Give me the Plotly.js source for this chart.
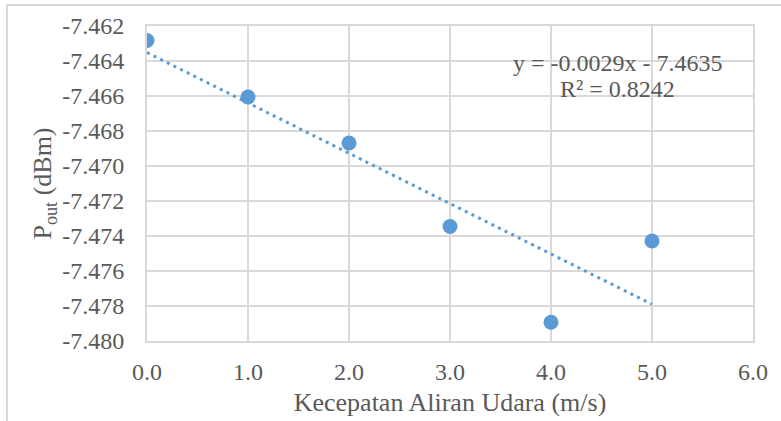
<!DOCTYPE html>
<html>
<head>
<meta charset="utf-8">
<script src="https://cdn.plot.ly/plotly-3.0.1.min.js"></script>
<style>
html,body{margin:0;padding:0;background:#fff;}
#wrap{position:relative;width:781px;height:421px;overflow:hidden;}
#frame{position:absolute;left:6px;top:4px;width:800px;height:440px;border-left:2px solid #d9d9d9;border-top:2px solid #d9d9d9;pointer-events:none;}
#chart{position:absolute;left:0;top:0;width:781px;height:421px;}
</style>
</head>
<body>
<div id="wrap">
<div id="chart"></div>
<div id="frame"></div>
</div>
<script>
// Data
const airSpeed = [0, 1, 2, 3, 4, 5];                 // m/s
const pOut = [-7.46283, -7.46606, -7.46869, -7.47346, -7.47893, -7.47429]; // dBm
const xTickVals = [0, 1, 2, 3, 4, 5, 6];
const yTickVals = [-7.480, -7.478, -7.476, -7.474, -7.472, -7.470, -7.468, -7.466, -7.464, -7.462];
const xTickText = xTickVals.map(v => v.toFixed(1));
const yTickText = yTickVals.map(v => v.toFixed(3));
const eqText = "y = -0.0029x - 7.4635";
const r2Text = "R² = 0.8242";

// Linear least squares trendline
const n = airSpeed.length;
const mx = airSpeed.reduce((a,b)=>a+b,0)/n;
const my = pOut.reduce((a,b)=>a+b,0)/n;
let sxy = 0, sxx = 0;
for (let i=0;i<n;i++){ sxy += (airSpeed[i]-mx)*(pOut[i]-my); sxx += (airSpeed[i]-mx)**2; }
const slope = sxy/sxx, intercept = my - slope*mx;
const xMin = Math.min(...airSpeed), xMax = Math.max(...airSpeed);
const trendX = [xMin, xMax];
const trendY = trendX.map(x => intercept + slope*x);

const blue = '#5b9bd5';
const txt = '#595959';
const grid = '#d9d9d9';
const font = 'Liberation Serif';

const traces = [
  {x: trendX, y: trendY, mode: 'lines', type: 'scatter',
   line: {color: blue, width: 3, dash: '3px,4.4px'}, hoverinfo: 'skip'},
  {x: airSpeed, y: pOut, mode: 'markers', type: 'scatter',
   marker: {color: blue, size: 15}}
];

const layout = {
  width: 781, height: 421,
  margin: {l: 147, r: 28, t: 26, b: 80},
  paper_bgcolor: '#fff', plot_bgcolor: '#fff',
  showlegend: false,
  font: {family: font, size: 24, color: txt},
  xaxis: {
    range: [0, 6], tickvals: xTickVals, ticktext: xTickText,
    showgrid: true, gridcolor: grid, gridwidth: 2,
    showline: true, mirror: true, linecolor: grid, linewidth: 2,
    zeroline: false, ticks: 'outside', ticklen: 8, tickcolor: 'rgba(0,0,0,0)', fixedrange: true,
    tickfont: {family: font, size: 24, color: txt},
    title: {text: 'Kecepatan Aliran Udara (m/s)', font: {family: font, size: 26, color: txt}, standoff: 9}
  },
  yaxis: {
    range: [-7.480, -7.462], tickvals: yTickVals, ticktext: yTickText,
    showgrid: true, gridcolor: grid, gridwidth: 2,
    showline: true, mirror: true, linecolor: grid, linewidth: 2,
    zeroline: false, ticks: 'outside', ticklen: 16, tickcolor: 'rgba(0,0,0,0)', fixedrange: true,
    tickfont: {family: font, size: 24, color: txt},
    title: {text: 'P<sub>out</sub> (dBm)', font: {family: font, size: 26, color: txt}, standoff: 3}
  },
  annotations: [
    {xref: 'paper', yref: 'paper', x: 0.777, y: (341-63)/315, text: eqText, showarrow: false,
     xanchor: 'center', yanchor: 'middle', font: {family: font, size: 24, color: txt}},
    {xref: 'paper', yref: 'paper', x: 0.777, y: (341-89)/315, text: r2Text, showarrow: false,
     xanchor: 'center', yanchor: 'middle', font: {family: font, size: 24, color: txt}}
  ]
};

Plotly.newPlot('chart', traces, layout, {displayModeBar: false, staticPlot: true});
</script>
</body>
</html>
